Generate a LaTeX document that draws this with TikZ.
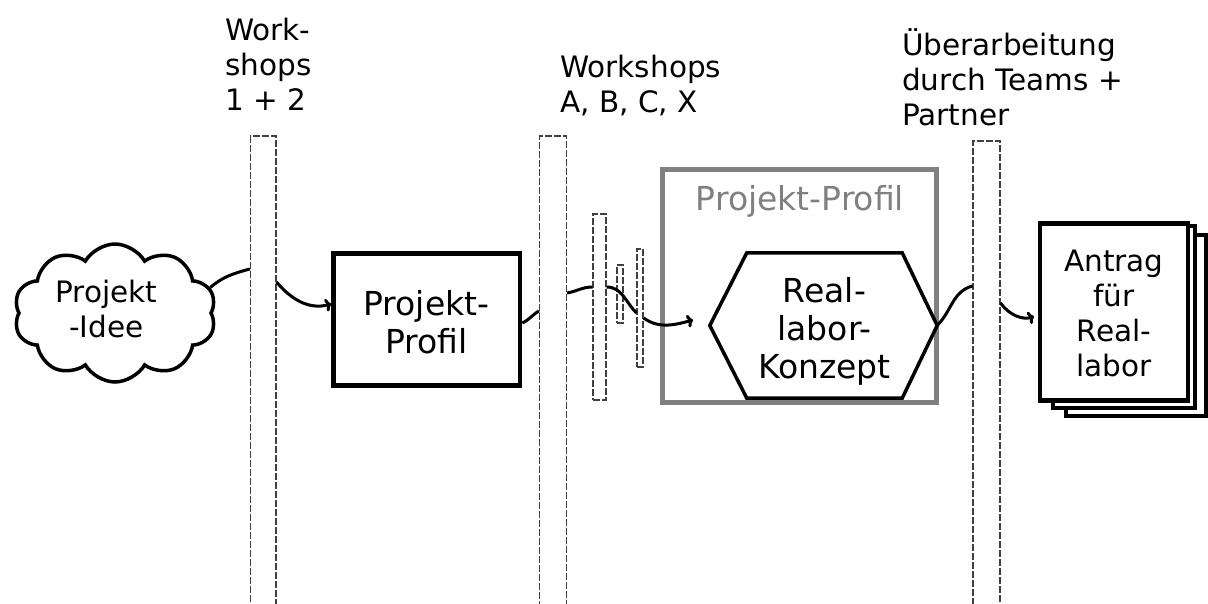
\documentclass[tikz,border=0pt]{standalone}
\usepackage{fontspec}
\setmainfont{DejaVu Sans}
\usetikzlibrary{shapes.symbols,arrows.meta}
\begin{document}
\begin{tikzpicture}[x=1pt,y=-1pt,
  lbl/.style={inner sep=0pt, align=left, font=\fontsize{29.5}{35}\selectfont, anchor=base west},
  ctext/.style={inner sep=0pt, align=center, font=\fontsize{29.5}{35}\selectfont, anchor=base},
  btext/.style={inner sep=0pt, align=center, font=\fontsize{33}{38}\selectfont, anchor=base},
  bar/.style={draw=black!75, line width=1.1pt, dash pattern=on 7pt off 2pt, rectangle, inner sep=0pt},
  conn/.style={line width=3pt, black},
  arr/.style={conn, -{To[length=6pt,width=13pt]}},
  page/.style={draw=black, fill=white, line width=4.5pt, rectangle, inner sep=0pt}
]
\useasboundingbox (0,0) rectangle (1208,603);

% dashed bars
\node[bar, minimum width=25.5pt, minimum height=480pt] (bar1) at (263.25,376) {};
\node[bar, minimum width=27pt, minimum height=480pt] (bar2) at (553,376) {};
\node[bar, minimum width=27pt, minimum height=470pt] (bar3) at (986.5,376) {};
\node[bar, minimum width=13pt, minimum height=186pt] (bara) at (599.5,307) {};
\node[bar, minimum width=6pt, minimum height=58pt] (barb) at (620,294) {};
\node[bar, minimum width=6pt, minimum height=118pt] (barc) at (640,308) {};

% labels
\node[lbl] (lw12) at (225,110) {Work-\\shops\\1 + 2};
\node[lbl] (lwabc) at (560,112) {Workshops\\A, B, C, X};
\node[lbl] (lueb) at (902,125) {Überarbeitung\\durch Teams +\\Partner};

% cloud
\node[cloud, draw, line width=3.5pt, cloud puffs=10, cloud puff arc=120, cloud ignores aspect,
      minimum width=202pt, minimum height=138pt, inner sep=0pt] (cloud) at (115,313) {};
\node[ctext] (cloudtext) at (106.5,337) {Projekt\\-Idee};

% box
\node[draw, line width=4.5pt, minimum width=186.5pt, minimum height=132pt, inner sep=0pt] (box) at (426.75,319.5) {};
\node[btext] (boxtext) at (426.5,353) {Projekt-\\Profil};

% gray box
\node[draw=black!50, line width=5pt, minimum width=274pt, minimum height=233pt, inner sep=0pt] (pbox) at (799.5,286) {};
\node[inner sep=0pt, anchor=base, text=black!50, font=\fontsize{33}{38}\selectfont] (pboxlbl) at (800,210) {Projekt-Profil};

% hexagon
\node[minimum width=227pt, minimum height=145pt, inner sep=0pt] (hex) at (823.5,325.5) {};
\draw[line width=3.5pt, line join=miter, fill=white] (hex.west) -- ([xshift=37pt]hex.north west) -- ([xshift=-35pt]hex.north east) -- (hex.east) -- ([xshift=-35pt]hex.south east) -- ([xshift=37pt]hex.south west) -- cycle;
\node[btext] (hextext) at (824.5,378) {Real-\\labor-\\Konzept};

% document stack
\node[page, minimum width=140pt, minimum height=181pt] (doc3) at (1136,325.5) {};
\node[page, minimum width=142pt, minimum height=182pt] (doc2) at (1124,317) {};
\node[page, minimum width=148pt, minimum height=177pt] (doc1) at (1114,312) {};
\node[ctext] (doctext) at (1114,376) {Antrag\\für\\Real-\\labor};

% connectors
\coordinate (a3) at (693,320);
\draw[conn] (cloud.15) to[out=40,in=195] (bar1.west |- 0,269);
\draw[arr] (bar1.east |- 0,282) to[out=-50,in=195] (box.west |- 0,304);
\draw[conn] (box.east |- 0,323) to[out=25,in=210] (bar2.west |- 0,311);
\draw[conn] (bar2.east |- 0,293) to[out=10,in=180] (bara.west |- 0,287);
\draw[conn] (bara.east |- 0,287) to[out=0,in=135] (barc.west |- 0,313);
\draw[arr] (barc.east |- 0,318) to[out=-35,in=195] (a3);
\draw[conn] (hex.east) to[out=45,in=195] (bar3.west |- 0,286);
\draw[arr, shorten >=4pt] (bar3.east |- 0,303) to[out=-55,in=200] (doc1.west |- 0,315);
\end{tikzpicture}
\end{document}
